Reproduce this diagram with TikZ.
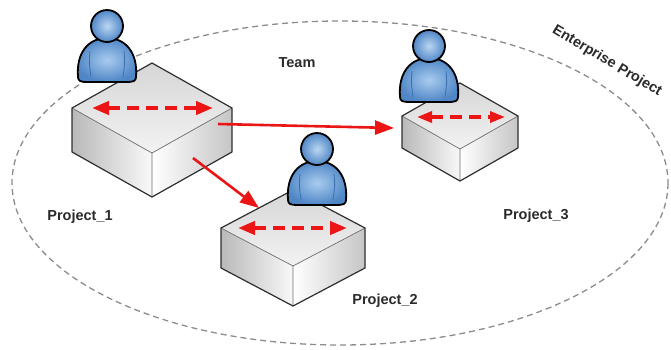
\documentclass[tikz,border=0pt]{standalone}
\usepackage{fontspec}
\setmainfont{Liberation Sans}
\usetikzlibrary{arrows.meta}

\definecolor{edge}{HTML}{2E2E2E}
\definecolor{txt}{HTML}{2A2A2A}
\definecolor{arrowred}{HTML}{EC1515}
\definecolor{userhi}{HTML}{A9CCEF}
\definecolor{userlo}{HTML}{4F86C6}
\definecolor{userline}{HTML}{3C6EAE}
\definecolor{ringgray}{HTML}{8C8C8C}

\tikzset{
  boxedge/.style={draw=edge, line width=1.2pt, line join=round},
  innerfold/.style={draw=edge!70, line width=0.7pt},
  userbody/.style={inner color=userhi, outer color=userlo, draw=black, line width=1.8pt},
  userhead/.style={inner color=userhi!80!white, outer color=userlo, draw=black, line width=1.8pt},
  userarm/.style={draw=userline, line width=0.8pt},
  ring/.style={draw=ringgray, line width=1.3pt, dash pattern=on 6pt off 4pt},
  flow/.style={draw=arrowred, line width=2.6pt, -{Triangle[length=19pt, width=14pt]}},
  spread/.style={draw=arrowred, line width=#1, dash pattern=on 12pt off 7pt,
     {Triangle[length=17pt, width=13pt]}-{Triangle[length=17pt, width=13pt]}},
  lbl/.style={text=txt, font=\bfseries\fontsize{14.5}{17}\selectfont, inner sep=0pt},
}

% isometric block: centre of top face (x,y), half width, half height, depth
\newcommand\isoBlock[5]{%
  \shade[left color=gray!55, right color=gray!5]
    ({#1-#3},#2) -- (#1,{#2+#4}) -- (#1,{#2+#4+#5}) -- ({#1-#3},{#2+#5}) -- cycle;
  \shade[left color=white, right color=gray!45]
    (#1,{#2+#4}) -- ({#1+#3},#2) -- ({#1+#3},{#2+#5}) -- (#1,{#2+#4+#5}) -- cycle;
  \shade[top color=gray!32, bottom color=gray!10]
    ({#1-#3},#2) -- (#1,{#2-#4}) -- ({#1+#3},#2) -- (#1,{#2+#4}) -- cycle;
  \draw[innerfold] ({#1-#3},#2) -- (#1,{#2+#4}) -- ({#1+#3},#2)
    (#1,{#2+#4}) -- (#1,{#2+#4+#5});
  \draw[boxedge] ({#1-#3},#2) -- (#1,{#2-#4}) -- ({#1+#3},#2) -- ({#1+#3},{#2+#5})
    -- (#1,{#2+#4+#5}) -- ({#1-#3},{#2+#5}) -- cycle;
}

% user figure standing on (x,y), the bottom centre of its body
\newcommand\userFigure[2]{%
  \begin{scope}[shift={(#1,#2)}]
    \shadedraw[userbody] (-29,-5) .. controls (-31,-30) and (-18,-44) .. (0,-44)
      .. controls (18,-44) and (31,-30) .. (29,-5)
      .. controls (29,-1) and (26,0) .. (20,0) -- (-20,0)
      .. controls (-26,0) and (-29,-1) .. cycle;
    \draw[userarm] (-17,-31) .. controls (-18,-20) .. (-16,-5);
    \draw[userarm] (17,-31) .. controls (18,-20) .. (16,-5);
    \shadedraw[userhead] (0,-56) circle[radius=16];
  \end{scope}
}

\begin{document}
\begin{tikzpicture}[x=1pt, y=-1pt]
  \useasboundingbox (0,0) rectangle (671,349);

  % enterprise boundary
  \draw[ring] (340,183) ellipse[x radius=328, y radius=162];

  % project blocks
  \isoBlock{152}{108}{80}{45}{44}
  \isoBlock{460}{116}{58}{33}{32}
  \isoBlock{293}{228}{72}{38}{40}

  % users
  \userFigure{107}{82}
  \userFigure{429}{102}
  \userFigure{317}{205}

  % spreading arrows on the top faces
  \coordinate (a1l) at (92,108);  \coordinate (a1r) at (213,108);
  \coordinate (a2l) at (238,228); \coordinate (a2r) at (347,228);
  \coordinate (a3l) at (417,117); \coordinate (a3r) at (505,117);
  \draw[spread=4pt] (a1l) -- (a1r);
  \draw[spread=4pt] (a2l) -- (a2r);
  \draw[spread=3.4pt, {Triangle[length=15pt, width=11pt]}-{Triangle[length=15pt, width=11pt]}] (a3l) -- (a3r);

  % flows between projects
  \coordinate (out13) at (218,124);
  \coordinate (in3) at (394,128);
  \coordinate (out12) at (193,158);
  \coordinate (in2) at (259,208);
  \draw[flow] (out13) -- (in3);
  \draw[flow] (out12) -- (in2);

  % labels
  \node[lbl, anchor=base] (team) at (297,67) {Team};
  \node[lbl, anchor=base] (p1) at (80,220) {Project\_1};
  \node[lbl, anchor=base] (p2) at (385,304) {Project\_2};
  \node[lbl, anchor=base] (p3) at (536,219) {Project\_3};
  \node[lbl, rotate=-31] (ent) at (607,61) {Enterprise Project};
\end{tikzpicture}
\end{document}
